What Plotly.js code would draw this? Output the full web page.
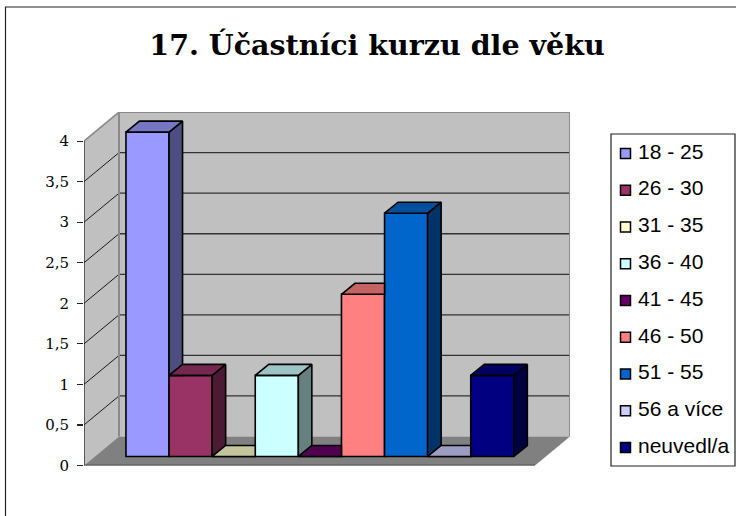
<!DOCTYPE html>
<html><head><meta charset="utf-8">
<script src="https://cdn.plot.ly/plotly-3.0.1.min.js"></script>
<style>html,body{margin:0;padding:0;background:#fff}#c{width:736px;height:516px}</style>
</head><body><div id="c"></div>
<script>
const categories = ['18 - 25','26 - 30','31 - 35','36 - 40','41 - 45','46 - 50','51 - 55','56 a více','neuvedl/a'];
const values = [4,1,0,1,0,2,3,0,1];
const colors = ['#9999FF','#993366','#FFFFCC','#CCFFFF','#660066','#FF8080','#0066CC','#CCCCFF','#000080'];
const tickVals = [0,0.5,1,1.5,2,2.5,3,3.5,4];
const tickText = ['0','0,5','1','1,5','2','2,5','3','3,5','4'];

const W=736,H=516;
const pxL=84,pxR=570,pxB=465.5,pxPerUnit=81.1,pxPerCat=43.1,pxCat0=147.5;
const floorDx=35/pxPerCat, floorDy=29/pxPerUnit;
const barDx=13.5/pxPerCat, barDy=11/pxPerUnit;
const barBase=9/pxPerUnit;
const X0=(pxL-pxCat0)/pxPerCat, X1=(pxR-pxCat0)/pxPerCat;
const YTOP=4+floorDy;
const pxT=pxB-YTOP*pxPerUnit;

function shade(hex,k){
  const n=parseInt(hex.slice(1),16);
  return 'rgb('+[(n>>16)&255,(n>>8)&255,n&255].map(c=>Math.round(c*k)).join(',')+')';
}
function pathOf(pts){return 'M'+pts.map(p=>p[0]+','+p[1]).join('L')+'Z';}
function poly(pts,fill,line,lw){
  return {type:'path',xref:'x',yref:'y',layer:'below',path:pathOf(pts),fillcolor:fill,
          line:{color:line||fill,width:lw===undefined?0:lw}};
}
function seg(a,b,color,w){
  return {type:'line',xref:'x',yref:'y',layer:'below',x0:a[0],y0:a[1],x1:b[0],y1:b[1],line:{color:color,width:w}};
}
function face(pts,fill){
  const c=pts.concat([pts[0]]);
  return {type:'scatter',mode:'lines',x:c.map(p=>p[0]),y:c.map(p=>p[1]),fill:'toself',fillcolor:fill,
    line:{color:'#000',width:1.6},xaxis:'x',yaxis:'y',showlegend:false,hoverinfo:'skip',cliponaxis:false};
}

const shapes=[];
// chart frame
shapes.push({type:'rect',xref:'paper',yref:'paper',x0:5.5/W,x1:1.02,y0:-0.02,y1:1-7/H,line:{color:'#222',width:1.2},fillcolor:'#fff',layer:'below'});
// walls and floor
shapes.push(poly([[X0,0],[X0+floorDx,floorDy],[X0+floorDx,YTOP],[X0,4]],'#C0C0C0'));
shapes.push(poly([[X0+floorDx,floorDy],[X1,floorDy],[X1,YTOP],[X0+floorDx,YTOP]],'#C0C0C0'));
shapes.push(poly([[X0,0],[X1-floorDx,0],[X1,floorDy],[X0+floorDx,floorDy]],'#808080'));
// gridlines
tickVals.forEach(v=>{
  if(v>0&&v<4){
    shapes.push(seg([X0,v],[X0+floorDx,v+floorDy],'#1a1a1a',1));
    shapes.push(seg([X0+floorDx,v+floorDy],[X1,v+floorDy],'#333',1.3));
  }
});
// wall borders
const grey='#8a8a8a';
shapes.push(seg([X0,4],[X0+floorDx,YTOP],grey,1.6));
shapes.push(seg([X0+floorDx,YTOP],[X1,YTOP],grey,2));
shapes.push(seg([X0+floorDx,floorDy],[X0+floorDx,YTOP],grey,2));
shapes.push(seg([X1,floorDy],[X1,YTOP],grey,2));
shapes.push(seg([X0,0],[X1-floorDx,0],'#333',1.5));
shapes.push(seg([X0,0],[X0,4],'#222',1.3));
// legend box
shapes.push({type:'rect',xref:'paper',yref:'paper',x0:611/W,x1:735/W,y0:1-466/H,y1:1-134/H,line:{color:'#222',width:1.2},fillcolor:'#fff',layer:'below'});

const traces=[];
// front faces: real bars through the library's scale
categories.forEach((name,i)=>{
  traces.push({type:'bar',name:name,x:[i],y:[values[i]],base:[barBase],width:[1],
    marker:{color:colors[i],line:{color:'#000',width:1.6}},xaxis:'x',yaxis:'y',showlegend:false,hoverinfo:'skip'});
});
// top and side faces, from the same values
categories.forEach((name,i)=>{
  const v=values[i], n=i+1<values.length?values[i+1]:0;
  const l=i-0.5, r=i+0.5, t=barBase+v, b=barBase;
  if(n<=v){
    const bottom=n>0?barBase+n:null;
    const side=bottom===null?[[r,b],[r,t],[r+barDx,t+barDy],[r+barDx,b+barDy]]
                            :[[r,bottom],[r,t],[r+barDx,t+barDy],[r+barDx,bottom]];
    traces.push(face(side,shade(colors[i],0.5)));
    traces.push(face([[l,t],[r,t],[r+barDx,t+barDy],[l+barDx,t+barDy]],shade(colors[i],0.77)));
  } else {
    traces.push(face([[l,t],[r,t],[r,t+barDy],[l+barDx,t+barDy]],shade(colors[i],0.77)));
  }
});
// legend
const idx=categories.map((_,i)=>i);
traces.push({type:'scatter',mode:'markers',x:idx.map(()=>14.5),y:idx,xaxis:'x2',yaxis:'y2',showlegend:false,hoverinfo:'skip',
  marker:{symbol:'square',size:10,color:colors,line:{color:'#000',width:1.5}}});
traces.push({type:'scatter',mode:'text',x:idx.map(()=>27),y:idx,text:categories,textposition:'middle right',
  textfont:{family:'Liberation Sans',size:21,color:'#000'},xaxis:'x2',yaxis:'y2',showlegend:false,hoverinfo:'skip',cliponaxis:false});

const layout={
  width:W,height:H,margin:{l:0,r:0,t:0,b:0},showlegend:false,paper_bgcolor:'#fff',plot_bgcolor:'rgba(0,0,0,0)',
  barmode:'overlay',
  title:{text:'17. Účastníci kurzu dle věku',x:377/W,xanchor:'center',y:1-45/H,yanchor:'middle',
         font:{family:'DejaVu Serif',size:28.5,color:'#000',weight:700}},
  xaxis:{domain:[pxL/W,pxR/W],range:[X0,X1],visible:false,fixedrange:true},
  yaxis:{domain:[(H-pxB)/H,(H-pxT)/H],range:[0,YTOP],showgrid:false,zeroline:false,showline:false,
         tickmode:'array',tickvals:tickVals,ticktext:tickText,ticks:'outside',ticklen:6,tickwidth:1.2,tickcolor:'#222',
         ticklabelstandoff:5,tickfont:{family:'DejaVu Serif',size:15,color:'#000'},fixedrange:true},
  xaxis2:{domain:[611/W,735/W],range:[0,124],visible:false,fixedrange:true,anchor:'y2'},
  yaxis2:{domain:[1-465.9/H,1-135.1/H],range:[8.5,-0.5],visible:false,fixedrange:true,anchor:'x2'},
  shapes:shapes
};
Plotly.newPlot('c',traces,layout,{displayModeBar:false,staticPlot:true});
</script></body></html>
